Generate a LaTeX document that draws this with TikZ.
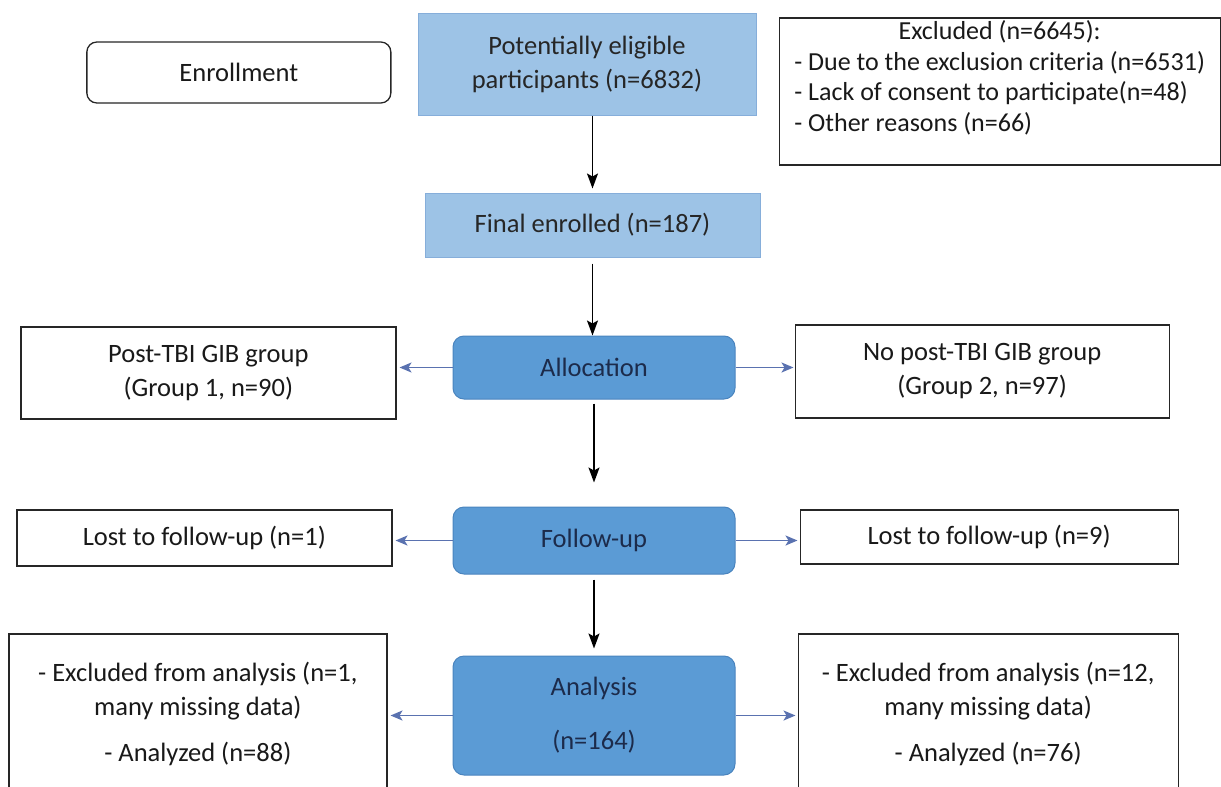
\documentclass[tikz,border=0pt]{standalone}
\usepackage{fontspec}
\setmainfont{Carlito}
\usepackage{xcolor}
\usetikzlibrary{positioning,arrows.meta}
\definecolor{paleblue}{HTML}{9DC3E6}
\definecolor{paleedge}{HTML}{86AEDA}
\definecolor{stageblue}{HTML}{5B9BD5}
\definecolor{stageedge}{HTML}{4A84BE}
\definecolor{arrowblue}{HTML}{5A72B0}
\definecolor{navytext}{HTML}{1C2B4B}

\begin{document}
\begin{tikzpicture}[
    x=1pt, y=1pt,
    font=\fontsize{26.5}{34}\selectfont,
    inner sep=0pt,
    whitebox/.style={rectangle, draw=black!85, line width=1.3pt, fill=white, align=center, text=black!90},
    palebox/.style={rectangle, draw=paleedge, line width=1pt, fill=paleblue, align=center, text=black!85},
    stagebox/.style={rectangle, rounded corners=11pt, draw=stageedge, line width=1pt, fill=stageblue, align=center, text=navytext, minimum width=282pt},
    arrow/.style={-{Stealth[length=15pt,width=11pt,inset=3pt]}, line width=1.6pt},
    sidearr/.style={-{Stealth[length=12pt,width=10pt,inset=3pt]}, line width=1.8pt, draw=arrowblue}
]
\useasboundingbox (0,0) rectangle (1221,-787);

% Enrollment
\node[palebox, minimum width=338pt, minimum height=102pt] (elig) at (587,-64) {Potentially eligible\\participants (n=6832)};
\node[whitebox, rounded corners=10pt, minimum width=304pt, minimum height=61pt, left=26pt of elig, yshift=-8.5pt] (enroll) {Enrollment};
\node[whitebox, minimum width=441pt, minimum height=147pt, right=22pt of elig, yshift=-27.5pt] (excl) {\fontsize{26}{30.5}\selectfont\begin{tabular}{@{}l@{}}
\multicolumn{1}{c}{Excluded (n=6645):}\\
- Due to the exclusion criteria (n=6531)\\
- Lack of consent to participate(n=48)\\
- Other reasons (n=66)\\[24pt]
\end{tabular}};

% Main flow
\node[palebox, minimum width=335pt, minimum height=64pt, below=74pt of elig, xshift=5.5pt, yshift=-3pt] (final) {Final enrolled (n=187)};
\node[stagebox, minimum height=63pt, below=78pt of final, xshift=1.5pt] (alloc) {Allocation};
\node[stagebox, minimum height=67pt, below=107pt of alloc] (follow) {Follow-up};
\node[stagebox, minimum height=119pt, below=81pt of follow] (analysis) {Analysis\\[20pt](n=164)};

% Groups
\node[whitebox, minimum width=375pt, minimum height=92pt, left=56pt of alloc, yshift=-5.5pt] (grpone) {Post-TBI GIB group\\(Group 1, n=90)};
\node[whitebox, minimum width=374pt, minimum height=93pt, right=59pt of alloc, yshift=-4pt] (grptwo) {No post-TBI GIB group\\(Group 2, n=97)};

% Follow-up losses
\node[whitebox, minimum width=375pt, minimum height=56pt, left=60pt of follow, yshift=2.5pt] (lostone) {Lost to follow-up (n=1)};
\node[whitebox, minimum width=378pt, minimum height=54pt, right=64pt of follow, yshift=3.5pt] (losttwo) {Lost to follow-up (n=9)};

% Analysis per group
\node[whitebox, minimum width=378pt, minimum height=160pt, left=65pt of analysis, yshift=1.5pt] (anaone) {- Excluded from analysis (n=1,\\many missing data)\\[12pt]- Analyzed (n=88)};
\node[whitebox, minimum width=380pt, minimum height=160pt, right=62pt of analysis, yshift=1.5pt] (anatwo) {- Excluded from analysis (n=12,\\many missing data)\\[12pt]- Analyzed (n=76)};

% Arrows
\draw[arrow, shorten >=4pt] (final.north |- elig.south) -- (final.north);
\draw[arrow, shorten <=6pt] (final.south) -- (final.south |- alloc.north);
\draw[arrow, shorten <=4pt, shorten >=24pt] (alloc) -- (follow);
\draw[arrow, shorten <=5pt, shorten >=7pt] (follow) -- (analysis);
\draw[sidearr, shorten >=3pt] (alloc.west) -- (alloc.west -| grpone.east);
\draw[sidearr, shorten >=1pt] (alloc.east) -- (alloc.east -| grptwo.west);
\draw[sidearr, shorten >=3pt] (follow.west) -- (follow.west -| lostone.east);
\draw[sidearr, shorten >=2pt] (follow.east) -- (follow.east -| losttwo.west);
\draw[sidearr, shorten >=3pt] (analysis.west) -- (analysis.west -| anaone.east);
\draw[sidearr, shorten >=2pt] (analysis.east) -- (analysis.east -| anatwo.west);

\end{tikzpicture}
\end{document}
